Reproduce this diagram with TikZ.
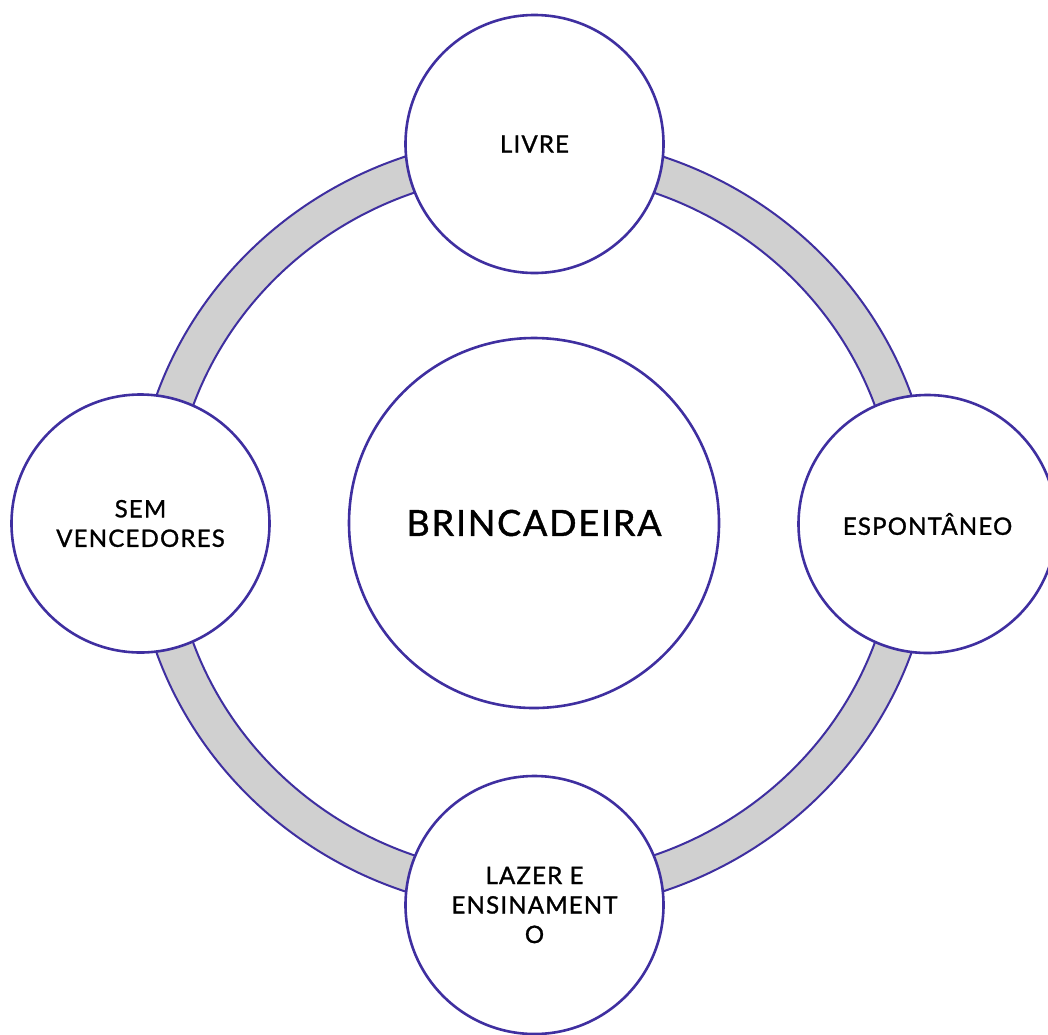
\documentclass[tikz,border=0pt]{standalone}
\usepackage{fontspec}
\setmainfont{Lato}[LetterSpace=5,FakeBold=1.2]
\definecolor{ringpurple}{HTML}{3F2FA0}
\definecolor{ringgray}{HTML}{D0D0D0}
\begin{document}
\begin{tikzpicture}[x=1pt,y=-1pt,
  bubble/.style={circle,draw=ringpurple,line width=2.6pt,fill=white,minimum size=258pt,inner sep=0pt,align=center,font=\fontsize{24}{29.5}\selectfont},
  hub/.style={circle,draw=ringpurple,line width=2.6pt,fill=white,minimum size=370pt,inner sep=0pt,font=\fontsize{36}{42}\selectfont}]
\useasboundingbox (0,0) rectangle (1048,1034);
\clip (0,0) rectangle (1048,1034);
% ring
\path[fill=ringgray,even odd rule] (534,524) ellipse [x radius=400,y radius=388] (534,524) ellipse [x radius=362,y radius=351];
\draw[ringpurple,line width=2pt] (534,524) ellipse [x radius=400,y radius=388];
\draw[ringpurple,line width=2pt] (534,524) ellipse [x radius=362,y radius=351];
% nodes
\node[hub] (center) at (534,523) {BRINCADEIRA};
\node[bubble] (top) at (534.5,144) {LIVRE};
\node[bubble] (right) at (927.5,524) {ESPONTÂNEO};
\node[bubble] (left) at (140.5,523.5) {SEM\\VENCEDORES};
\node[bubble] (bottom) at (534.5,905) {LAZER E\\ENSINAMENT\\O};
\end{tikzpicture}
\end{document}
